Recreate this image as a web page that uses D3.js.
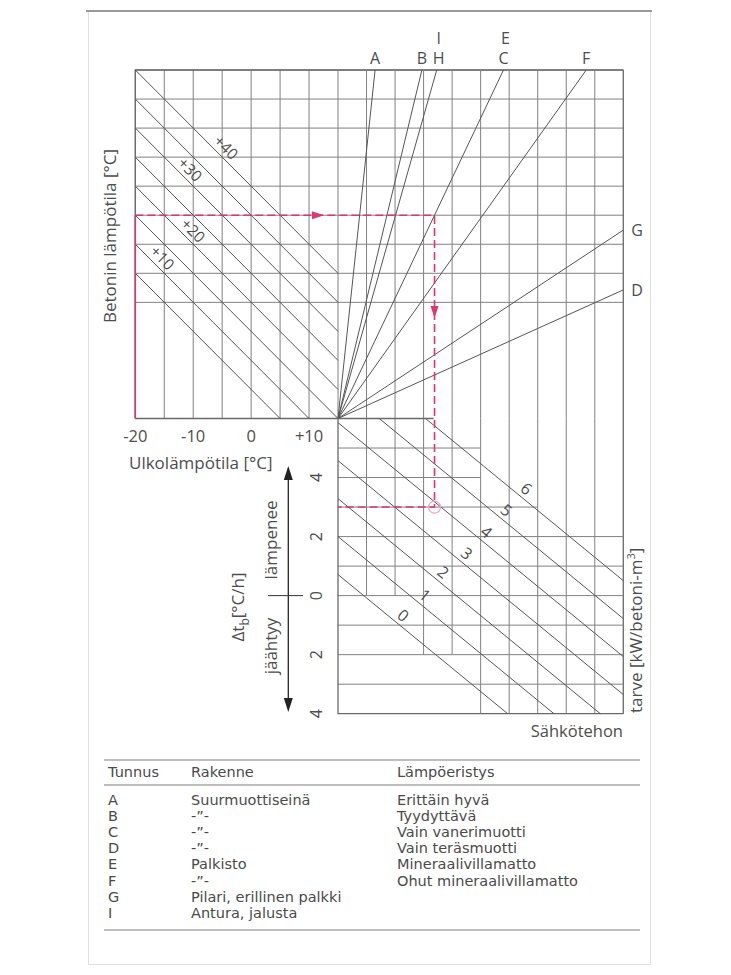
<!DOCTYPE html>
<html>
<head>
<meta charset="utf-8">
<script src="https://cdn.jsdelivr.net/npm/d3@7"></script>
<style>
  html, body { margin: 0; padding: 0; background: #fff; }
  svg { display: block; }
  text { font-family: "Open Sans", "Noto Sans", sans-serif; fill: #4d4d4d; }
  .legend text { font-family: "DejaVu Sans", Verdana, sans-serif; font-size: 14.5px; fill: #4a4a4a; }
</style>
</head>
<body>
<svg id="chart" width="731" height="975"></svg>
<script>
// ---- data ----------------------------------------------------------------
// Outdoor temperature axis (°C)
const outdoorTicks = [-20, -10, 0, 10];
const outdoorTickLabels = ["-20", "-10", "0", "+10"];
const outdoorGrid = [-20, -15, -10, -5, 0, 5, 10, 15];
// Temperature difference rows (concrete minus outdoor, °C)
const diffGrid = [20, 25, 30, 35, 40, 45, 50, 55, 60];
// Concrete temperature isolines (°C) and the ones carrying a label
const concreteTemps = [5, 10, 15, 20, 25, 30, 35, 40];
const concreteLabelTemps = [10, 20, 30, 40];
const concreteLabelTexts = ["+10", "+20", "+30", "+40"];
const concreteLabelOutdoor = [-16.5, -11.2, -11.7, -5.5];
// Structure lines: heat loss reached at a 60 °C difference
const structureIds = ["A", "B", "H", "C", "F", "G", "D"];
const structureLossAt60 = [1.30, 2.94, 3.46, 5.80, 8.70, 18.5, 27.1];
const structureExtraIds = ["", "", "I", "E", "", "", ""];
// Heating-rate axis (°C/h)
const rateTicks = [4, 2, 0, -2, -4];
const rateTickLabels = ["4", "2", "0", "2", "4"];
// Power demand lines (kW/m³ of concrete) and where each is labelled
const powerLevels = [0, 1, 2, 3, 4, 5, 6];
const powerLabelLoss = [2.07, 2.83, 3.47, 4.29, 4.99, 5.69, 6.39];
// Worked example: outdoor -20 °C, concrete +15 °C, structure C, rate +3 °C/h
const exampleOutdoor = -20;
const exampleConcrete = 15;
const exampleLossAt60 = 5.80;
const exampleRate = 3;
// Legend table
const legendHeader = ["Tunnus", "Rakenne", "Lämpöeristys"];
const legendIds = ["A", "B", "C", "D", "E", "F", "G", "I"];
const legendStructure = ["Suurmuottiseinä", "-\u201D-", "-\u201D-", "-\u201D-", "Palkisto", "-\u201D-", "Pilari, erillinen palkki", "Antura, jalusta"];
const legendInsulation = ["Erittäin hyvä", "Tyydyttävä", "Vain vanerimuotti", "Vain teräsmuotti", "Mineraalivillamatto", "Ohut mineraalivillamatto", "", ""];

// ---- scales --------------------------------------------------------------
const svg = d3.select("#chart");
const xOut = d3.scaleLinear().domain([-20, 15]).range([135.3, 338]);
const yDiff = d3.scaleLinear().domain([0, 60]).range([418.5, 70]);
const xLoss = d3.scaleLinear().domain([0, 10]).range([338, 623.3]);
const yRate = d3.scaleLinear().domain([6, -4]).range([418.5, 713.7]);
// where each power line crosses the zero-rate row, in loss units
const powerAxis = d3.scaleLinear().domain([0, 6]).range([0.90, 10.64]);
const rateSlope = 0.7925; // °C/h lost per loss unit along a power line

const GRID = "#808080", FRAME = "#6a6a6a", INK = "#555", PINK = "#e0356d";

const line = d3.line().x(d => d[0]).y(d => d[1]);
function seg(g, pts, stroke, width, extra) {
  const p = g.append("path").attr("d", line(pts)).attr("fill", "none")
    .attr("stroke", stroke).attr("stroke-width", width);
  if (extra) extra(p);
  return p;
}

// outer frame
svg.append("rect").attr("x", 88.5).attr("y", 11.5).attr("width", 562).attr("height", 953)
  .attr("fill", "none").attr("stroke", "#e0e0e0").attr("stroke-width", 1);
svg.append("line").attr("x1", 86).attr("x2", 652).attr("y1", 11).attr("y2", 11)
  .attr("stroke", "#9a9a9a").attr("stroke-width", 2);

const g = svg.append("g");

// ---- upper-left: outdoor temperature vs. difference ----------------------
outdoorGrid.forEach(t => seg(g, [[xOut(t), yDiff(0)], [xOut(t), yDiff(60)]], GRID, 1));
diffGrid.forEach(d => seg(g, [[xOut(-20), yDiff(d)], [xLoss(10), yDiff(d)]], GRID, 1));
seg(g, [[xOut(-20), yDiff(0)], [xOut(15), yDiff(0)]], FRAME, 1.3);
seg(g, [[xOut(-20), yDiff(0)], [xOut(-20), yDiff(60)], [xLoss(10), yDiff(60)]], FRAME, 1.3);

concreteTemps.forEach(tc => {
  const t0 = Math.max(-20, tc - 60), t1 = Math.min(15, tc);
  seg(g, [[xOut(t0), yDiff(tc - t0)], [xOut(t1), yDiff(tc - t1)]], INK, 1);
});
concreteLabelTemps.forEach((tc, i) => {
  const to = concreteLabelOutdoor[i];
  g.append("text").attr("transform", `translate(${xOut(to)},${yDiff(tc - to)}) rotate(45)`)
    .attr("text-anchor", "middle").attr("dominant-baseline", "central").attr("y", -10)
    .attr("font-size", 15.5).text(concreteLabelTexts[i]);
});

outdoorTicks.forEach((t, i) => {
  g.append("text").attr("x", xOut(t)).attr("y", 442).attr("text-anchor", "middle")
    .attr("font-size", 16.5).text(outdoorTickLabels[i]);
});
g.append("text").attr("x", 129).attr("y", 469).attr("font-size", 17).text("Ulkolämpötila [°C]");
g.append("text").attr("transform", "translate(116,236) rotate(-90)").attr("text-anchor", "middle")
  .attr("font-size", 17).text("Betonin lämpötila [°C]");

// ---- upper-right: structure lines ----------------------------------------
d3.range(1, 10).forEach(v => seg(g, [[xLoss(v), yDiff(60)], [xLoss(v), yDiff(0)]], GRID, 1));
seg(g, [[xLoss(10), yDiff(60)], [xLoss(10), yRate(-4)]], FRAME, 1.3);

structureIds.forEach((id, i) => {
  const L = structureLossAt60[i];
  const t = Math.min(1, 10 / L);
  const ex = xLoss(L * t), ey = yDiff(60 * t);
  seg(g, [[xLoss(0), yDiff(0)], [ex, ey]], INK, 1);
  if (t === 1) {
    g.append("text").attr("x", ex + (id === "H" ? 2 : 0)).attr("y", 64).attr("text-anchor", "middle")
      .attr("font-size", 16).text(id);
    if (structureExtraIds[i]) {
      g.append("text").attr("x", ex + 2).attr("y", 44).attr("text-anchor", "middle")
        .attr("font-size", 16).text(structureExtraIds[i]);
    }
  } else {
    g.append("text").attr("x", ex + 8).attr("y", ey + 6).attr("font-size", 16).text(id);
  }
});

// ---- lower-right: heating rate vs. power demand --------------------------
// rows near the top stop short, below the highest power line
const rowEnds = new Map([[5, 5], [4, 5], [3, 7]]);
d3.range(5, -4, -1).forEach(r => {
  const end = rowEnds.has(r) ? rowEnds.get(r) : 10;
  seg(g, [[xLoss(0), yRate(r)], [xLoss(end), yRate(r)]], GRID, 1);
});
// columns near the left stop short, above the zero-power line
const colEnds = new Map([[1, 0], [2, 0], [3, -2], [4, -2]]);
d3.range(1, 10).forEach(v => {
  const end = colEnds.has(v) ? colEnds.get(v) : -4;
  seg(g, [[xLoss(v), yRate(6)], [xLoss(v), yRate(end)]], GRID, 1);
});
seg(g, [[xLoss(0), yRate(6)], [xLoss(3.35), yRate(6)]], FRAME, 1.3);
seg(g, [[xLoss(0), yRate(6)], [xLoss(0), yRate(-4)], [xLoss(10), yRate(-4)]], FRAME, 1.3);

// a power line clipped to the quadrant box [0,10] x [-4,6]
function powerRate(P, x) { return rateSlope * (powerAxis(P) - x); }
function powerSegment(P) {
  const x0 = powerAxis(P);
  const xa = Math.max(0, x0 - 6 / rateSlope);
  const xb = Math.min(10, x0 + 4 / rateSlope);
  return [[xLoss(xa), yRate(powerRate(P, xa))], [xLoss(xb), yRate(powerRate(P, xb))]];
}
const powerAngle = Math.atan2(yRate(-rateSlope) - yRate(0), xLoss(1) - xLoss(0)) * 180 / Math.PI;
powerLevels.forEach((P, i) => {
  seg(g, powerSegment(P), INK, 1);
  const lx = powerLabelLoss[i];
  g.append("text")
    .attr("transform", `translate(${xLoss(lx)},${yRate(powerRate(P, lx))}) rotate(${powerAngle})`)
    .attr("text-anchor", "middle").attr("dominant-baseline", "central").attr("y", -10)
    .attr("font-size", 16).text(P);
});

// rate axis with arrows
const ax = 288.3;
seg(g, [[ax, 476], [ax, 702]], "#222", 1.3);
g.append("path").attr("d", `M${ax},466 L${ax - 4.5},480 L${ax + 4.5},480 Z`).attr("fill", "#222");
g.append("path").attr("d", `M${ax},712 L${ax - 4.5},698 L${ax + 4.5},698 Z`).attr("fill", "#222");
seg(g, [[268, yRate(0)], [303, yRate(0)]], "#333", 1);
rateTicks.forEach((r, i) => {
  g.append("text").attr("transform", `translate(322,${yRate(r)}) rotate(-90)`)
    .attr("text-anchor", "middle").attr("font-size", 16).text(rateTickLabels[i]);
});
g.append("text").attr("transform", "translate(277,540) rotate(-90)").attr("text-anchor", "middle")
  .attr("font-size", 17).text("lämpenee");
g.append("text").attr("transform", "translate(277,646) rotate(-90)").attr("text-anchor", "middle")
  .attr("font-size", 17).text("jäähtyy");
const dl = g.append("text").attr("transform", "translate(244,607) rotate(-90)").attr("text-anchor", "middle")
  .attr("font-size", 17);
dl.append("tspan").text("Δt");
dl.append("tspan").attr("font-size", 12).attr("dy", 5).text("b");
dl.append("tspan").attr("dy", -5).text("[°C/h]");

g.append("text").attr("x", 623).attr("y", 737).attr("text-anchor", "end").attr("font-size", 16.5).text("Sähkötehon");
const ty = g.append("text").attr("transform", "translate(642,713) rotate(-90)").attr("font-size", 17);
ty.append("tspan").text("tarve [kW/betoni-m");
ty.append("tspan").attr("font-size", 11).attr("dy", -7).text("3");
ty.append("tspan").attr("dy", 7).text("]");

// ---- worked example path -------------------------------------------------
const exg = g.append("g");
const exDiff = exampleConcrete - exampleOutdoor;
const exLoss = exampleLossAt60 * exDiff / 60;
seg(exg, [[xOut(exampleOutdoor), yDiff(0)], [xOut(exampleOutdoor), yDiff(exDiff)]], PINK, 1.6);
seg(exg, [[xOut(exampleOutdoor), yDiff(exDiff)], [xLoss(exLoss), yDiff(exDiff)], [xLoss(exLoss), yRate(exampleRate)], [xLoss(0), yRate(exampleRate)]],
  PINK, 1.6, p => p.attr("stroke-dasharray", "8,4"));
const ay = yDiff(exDiff), axp = 318;
exg.append("path").attr("d", `M${axp + 6},${ay} L${axp - 6},${ay - 4} L${axp - 6},${ay + 4} Z`).attr("fill", PINK);
const axx = xLoss(exLoss), axy = 312;
exg.append("path").attr("d", `M${axx},${axy + 6} L${axx - 4},${axy - 6} L${axx + 4},${axy - 6} Z`).attr("fill", PINK);
exg.append("circle").attr("cx", xLoss(exLoss)).attr("cy", yRate(exampleRate)).attr("r", 6)
  .attr("fill", "none").attr("stroke", "#f0a0b8").attr("stroke-width", 1.2);

// ---- legend table --------------------------------------------------------
const lg = svg.append("g").attr("class", "legend");
[760, 785, 930].forEach(y => lg.append("line").attr("x1", 104).attr("x2", 640).attr("y1", y).attr("y2", y)
  .attr("stroke", "#a8a8a8").attr("stroke-width", 1.5));
const cols = [108, 191, 397];
legendHeader.forEach((h, i) => lg.append("text").attr("x", cols[i]).attr("y", 777).text(h));
legendIds.forEach((id, i) => {
  const y = 805 + i * 16.1;
  lg.append("text").attr("x", cols[0]).attr("y", y).text(id);
  lg.append("text").attr("x", cols[1]).attr("y", y).text(legendStructure[i]);
  if (legendInsulation[i]) lg.append("text").attr("x", cols[2]).attr("y", y).text(legendInsulation[i]);
});
</script>
</body>
</html>
